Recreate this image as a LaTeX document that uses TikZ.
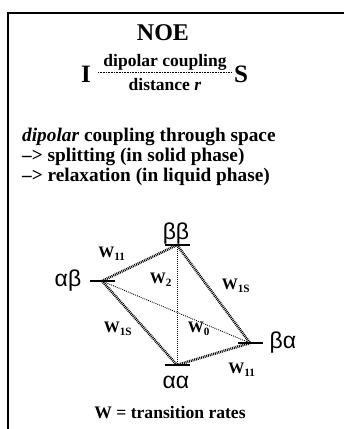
\documentclass[tikz,border=0pt]{standalone}
\usepackage{fontspec}
\setmainfont{Liberation Serif}
\newfontfamily\greekf{Liberation Sans}
\begin{document}
\begin{tikzpicture}[x=1pt,y=-1pt,
  txt/.style={inner sep=0pt,font=\fontsize{19.3}{21}\selectfont\bfseries},
  wlab/.style={inner sep=0pt,font=\fontsize{16}{18}\selectfont\bfseries},
  glab/.style={inner sep=0pt,font=\fontsize{23}{25}\selectfont\greekf},
  levelbar/.style={fill=black,draw=none,minimum width=25pt,minimum height=2.6pt,inner sep=0pt},
  strong/.style={line width=2.6pt,dash pattern=on 0.9pt off 0.9pt},
  weak/.style={line width=0.9pt,dash pattern=on 0.9pt off 1.1pt}]
\useasboundingbox (0,0) rectangle (344,429);
\clip (0,0) rectangle (344,429);
\fill[white] (0,0) rectangle (344,429);
\draw[line width=2pt] (8,13) rectangle (400,480);
% title
\node[inner sep=0pt,font=\fontsize{24}{26}\selectfont\bfseries] (title) at (163,33) {NOE};
\node[inner sep=0pt,font=\fontsize{25}{27}\selectfont\bfseries] (I) at (86,74) {I};
\node[inner sep=0pt,font=\fontsize{25}{27}\selectfont\bfseries] (S) at (241,74) {S};
\node[inner sep=0pt,font=\fontsize{17.5}{19}\selectfont\bfseries] (num) at (165,62) {dipolar coupling};
\node[inner sep=0pt,font=\fontsize{17.5}{19}\selectfont\bfseries] (den) at (165,85) {distance \textit{r}};
\coordinate (fl) at (98,72);
\coordinate (fr) at (231,72);
\draw[line width=0.9pt,dash pattern=on 0.8pt off 0.8pt] (fl) -- (fr);
% text block
\node[txt,anchor=west] (l1) at (22,137) {\textit{dipolar} coupling through space};
\node[txt,anchor=west] (l2) at (22,157) {--> splitting (in solid phase)};
\node[txt,anchor=west] (l3) at (22,177) {--> relaxation (in liquid phase)};
% levels
\node[levelbar] (bb) at (177,245) {};
\node[levelbar] (ab) at (102,281) {};
\node[levelbar] (ba) at (250,343) {};
\node[levelbar] (aa) at (177,365) {};
\node[glab] (bbl) at (176,234) {ββ};
\node[glab] (abl) at (68,281) {αβ};
\node[glab] (bal) at (283,343) {βα};
\node[glab] (aal) at (176,382) {αα};
% transitions
\draw[weak] (bb.center) -- (aa.center);
\draw[weak] (ab.center) -- (ba.center);
\draw[strong] (ab.center) -- (bb.center);
\draw[strong] (bb.center) -- (ba.center);
\draw[strong] (ab.center) -- (aa.center);
\draw[strong] (aa.center) -- (ba.center);
% labels
\node[wlab] (w11a) at (112,254) {W\textsubscript{11}};
\node[wlab] (w2) at (161,280) {W\textsubscript{2}};
\node[wlab] (w1sa) at (236,286) {W\textsubscript{1S}};
\node[wlab] (w1sb) at (118,329) {W\textsubscript{1S}};
\node[wlab] (w0) at (199,329) {W\textsubscript{0}};
\node[wlab] (w11b) at (242,370) {W\textsubscript{11}};
\node[inner sep=0pt,font=\fontsize{17.6}{19}\selectfont\bfseries] (foot) at (170,413) {W = transition rates};
\end{tikzpicture}
\end{document}
